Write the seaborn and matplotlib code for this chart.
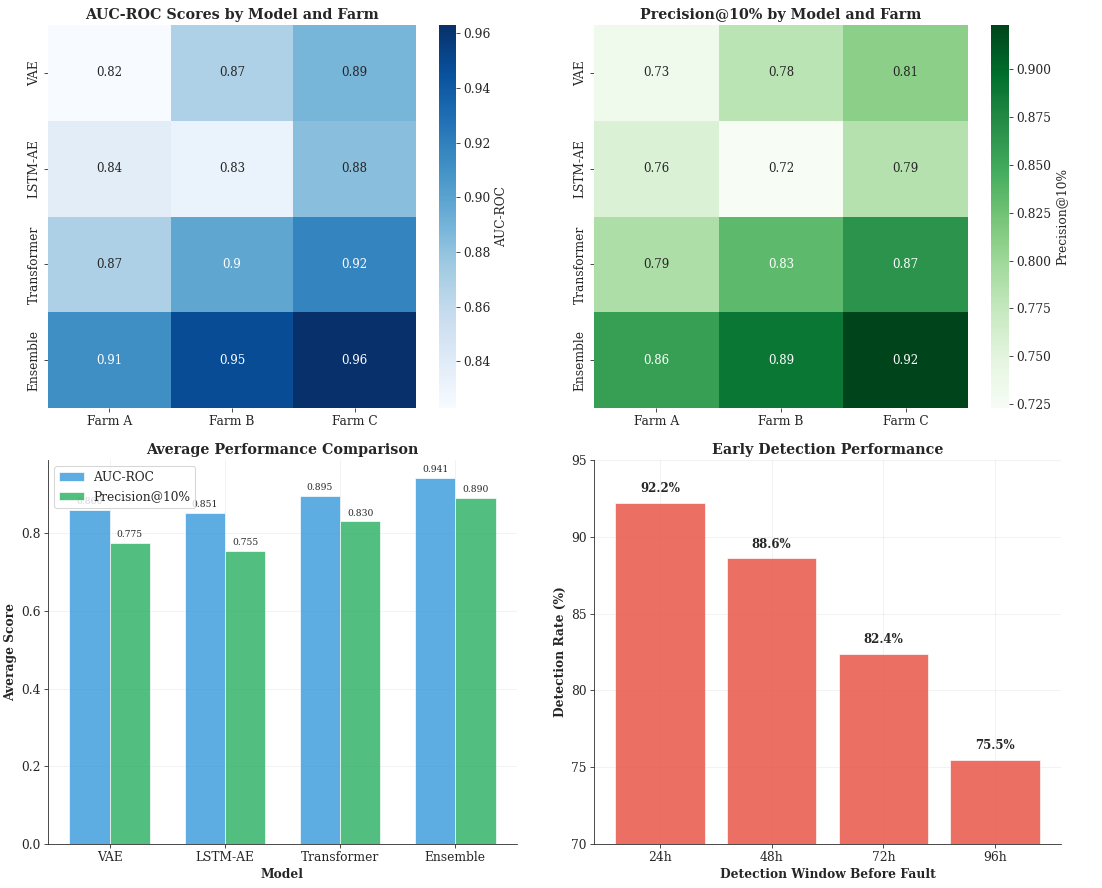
import numpy as np
import pandas as pd
import seaborn as sns
import matplotlib.pyplot as plt

# ---------------- data ----------------
models = ["VAE", "LSTM-AE", "Transformer", "Ensemble"]
farms = ["Farm A", "Farm B", "Farm C"]

auc_vae = [0.823, 0.868, 0.889]
auc_lstm = [0.838, 0.832, 0.883]
auc_transformer = [0.869, 0.898, 0.918]
auc_ensemble = [0.912, 0.948, 0.963]

prec_vae = [0.734, 0.781, 0.810]
prec_lstm = [0.756, 0.723, 0.786]
prec_transformer = [0.790, 0.834, 0.866]
prec_ensemble = [0.857, 0.890, 0.923]

avg_auc = [0.860, 0.851, 0.895, 0.941]
avg_prec = [0.775, 0.755, 0.830, 0.890]

windows = ["24h", "48h", "72h", "96h"]
detection_rates = [92.2, 88.6, 82.4, 75.5]

# ---------------- style ----------------
sns.set_style("white")
plt.rcParams["font.family"] = ["DejaVu Serif"]
plt.rcParams["font.size"] = 12
plt.rcParams["xtick.bottom"] = True
plt.rcParams["ytick.left"] = True

W, H = 1102, 888
DPI = 73.47
fig = plt.figure(figsize=(W / DPI, H / DPI), dpi=DPI)


def px_axes(x0, y0, x1, y1):
    return fig.add_axes([x0 / W, 1 - y1 / H, (x1 - x0) / W, (y1 - y0) / H])


auc_df = pd.DataFrame([auc_vae, auc_lstm, auc_transformer, auc_ensemble],
                      index=models, columns=farms)
prec_df = pd.DataFrame([prec_vae, prec_lstm, prec_transformer, prec_ensemble],
                       index=models, columns=farms)

TITLE = 14
LABEL = 12

# Heatmap 1
ax1 = px_axes(48, 25, 416, 408)
cax1 = px_axes(439, 25, 456, 408)
sns.heatmap(auc_df, annot=True, cmap="Blues", ax=ax1, cbar_ax=cax1,
            annot_kws={"fontsize": 11.5},
            cbar_kws={"label": "AUC-ROC"})
ax1.set_title("AUC-ROC Scores by Model and Farm", fontsize=TITLE, fontweight="bold")
ax1.set_xlabel("")
ax1.set_ylabel("")
ax1.tick_params(axis="y", rotation=90)
for lab in ax1.get_yticklabels():
    lab.set_va("center")

# Heatmap 2
ax2 = px_axes(594, 25, 968, 408)
cax2 = px_axes(991, 25, 1009, 408)
sns.heatmap(prec_df, annot=True, cmap="Greens", ax=ax2, cbar_ax=cax2,
            annot_kws={"fontsize": 11.5},
            cbar_kws={"label": "Precision@10%"})
ax2.set_title("Precision@10% by Model and Farm", fontsize=TITLE, fontweight="bold")
ax2.set_xlabel("")
ax2.set_ylabel("")
ax2.tick_params(axis="y", rotation=90)
for lab in ax2.get_yticklabels():
    lab.set_va("center")

# Grouped bars
ax3 = px_axes(48, 460, 517, 844)
x = np.arange(len(models))
w = 0.35
b1 = ax3.bar(x - w / 2, avg_auc, w, label="AUC-ROC", color="#3498db", alpha=0.8,
             edgecolor="white", linewidth=0.8)
b2 = ax3.bar(x + w / 2, avg_prec, w, label="Precision@10%", color="#27ae60", alpha=0.8,
             edgecolor="white", linewidth=0.8)
for bars in (b1, b2):
    for bar in bars:
        h = bar.get_height()
        ax3.text(bar.get_x() + bar.get_width() / 2, h + 0.01, f"{h:.3f}",
                 ha="center", va="bottom", fontsize=9)
ax3.set_xticks(x)
ax3.set_xticklabels(models)
ax3.set_xlabel("Model", fontsize=LABEL, fontweight="bold")
ax3.set_ylabel("Average Score", fontsize=LABEL, fontweight="bold")
ax3.set_title("Average Performance Comparison", fontsize=TITLE, fontweight="bold")
ax3.legend(loc="upper left")
ax3.grid(True, alpha=0.3)
sns.despine(ax=ax3)

# Early detection
ax4 = px_axes(594, 460, 1061, 844)
pos = np.arange(len(windows))
bars = ax4.bar(pos, detection_rates, 0.8, color="#e74c3c", alpha=0.8,
               edgecolor="white", linewidth=0.8)
for bar in bars:
    h = bar.get_height()
    ax4.text(bar.get_x() + bar.get_width() / 2, h + 0.5, f"{h:.1f}%",
             ha="center", va="bottom", fontsize=11.5, fontweight="bold")
ax4.set_xticks(pos)
ax4.set_xticklabels(windows)
ax4.set_ylim(70, 95)
ax4.set_xlabel("Detection Window Before Fault", fontsize=LABEL, fontweight="bold")
ax4.set_ylabel("Detection Rate (%)", fontsize=LABEL, fontweight="bold")
ax4.set_title("Early Detection Performance", fontsize=TITLE, fontweight="bold")
ax4.grid(True, alpha=0.3)
sns.despine(ax=ax4)

fig.savefig("out.png", dpi=DPI)
